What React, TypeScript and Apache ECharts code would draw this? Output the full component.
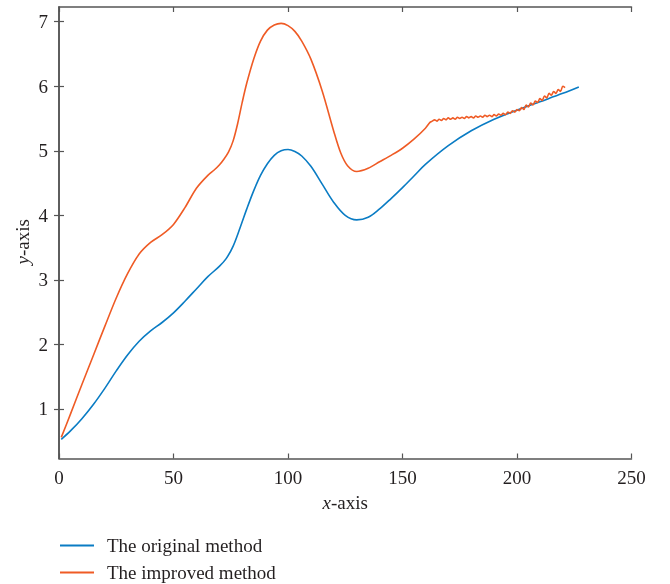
import React, { useEffect, useRef } from "react";
import * as echarts from "echarts";

const xTicks = [0, 50, 100, 150, 200, 250];
const yTicks = [1, 2, 3, 4, 5, 6, 7];

const origX = [1, 5, 10, 15, 20, 25, 30, 35, 40, 45, 50, 55, 60, 65, 70, 73, 76, 79, 82, 85, 88, 91, 94, 97, 100, 103, 106, 110, 115, 120, 125, 130, 135, 140, 145, 150, 155, 160, 170, 180, 190, 200, 210, 220, 227];
const origY = [0.53, 0.66, 0.85, 1.07, 1.32, 1.59, 1.84, 2.05, 2.21, 2.34, 2.49, 2.67, 2.86, 3.05, 3.21, 3.33, 3.52, 3.8, 4.1, 4.38, 4.62, 4.8, 4.93, 5.0, 5.02, 4.99, 4.92, 4.76, 4.48, 4.2, 4.0, 3.93, 3.97, 4.1, 4.26, 4.43, 4.61, 4.79, 5.08, 5.31, 5.49, 5.63, 5.76, 5.89, 5.99];

const impX = [1, 5, 10, 15, 20, 25, 30, 35, 40, 45, 50, 55, 60, 65, 68, 70, 72, 74, 76, 78, 80, 82, 85, 88, 91, 94, 97, 100, 103, 106, 110, 115, 120, 123, 126, 130, 135, 140, 145, 150, 155, 160, 162,
  163, 164, 165, 166, 167, 168, 169, 170, 171, 172, 173, 174, 175, 176, 177, 178, 179, 180, 181, 182, 183, 184, 185, 186, 187, 188, 189, 190, 191, 192, 193, 194, 195, 196, 197, 198, 199, 200, 201, 202, 203, 204, 205, 206, 207, 208, 209, 210, 211, 212, 213, 214, 215, 216, 217, 218, 219, 220, 221];
const impY = [0.56, 0.92, 1.38, 1.83, 2.28, 2.72, 3.1, 3.4, 3.58, 3.7, 3.86, 4.12, 4.42, 4.62, 4.71, 4.78, 4.87, 4.98, 5.15, 5.42, 5.75, 6.05, 6.42, 6.7, 6.87, 6.95, 6.975, 6.94, 6.85, 6.7, 6.42, 5.92, 5.3, 4.97, 4.77, 4.68, 4.73, 4.83, 4.93, 5.04, 5.18, 5.35, 5.44,
  5.46, 5.48, 5.46, 5.49, 5.47, 5.5, 5.48, 5.51, 5.49, 5.51, 5.49, 5.52, 5.5, 5.52, 5.5, 5.53, 5.51, 5.53, 5.51, 5.54, 5.52, 5.54, 5.52, 5.55, 5.53, 5.55, 5.53, 5.56, 5.54, 5.57, 5.55, 5.58, 5.56, 5.6, 5.58, 5.62, 5.6, 5.64, 5.62, 5.67, 5.64, 5.71, 5.68, 5.74, 5.71, 5.77, 5.75, 5.81, 5.78, 5.85, 5.82, 5.89, 5.86, 5.92, 5.89, 5.95, 5.92, 6.0, 5.98];

const seriesNames = ["The original method", "The improved method"];
const colors = ["#0a7cc4", "#ef5b25"];

const FONT = "Liberation Serif";
const AXIS_COLOR = "#555";
const TEXT_COLOR = "#231f20";

export default function App() {
  const ref = useRef<HTMLDivElement>(null);
  useEffect(() => {
    if (!ref.current) return;
    const chart = echarts.init(ref.current, undefined, { renderer: "svg" });
    const axisLine = { show: true, lineStyle: { color: AXIS_COLOR, width: 1.5 } };
    const tick = { show: true, inside: true, length: 5, lineStyle: { color: AXIS_COLOR, width: 1.2 } };
    chart.setOption({
      animation: false,
      textStyle: { fontFamily: FONT, color: TEXT_COLOR },
      grid: { left: 59, right: 38.5, top: 7, bottom: 125.5, containLabel: false },
      legend: {
        orient: "vertical",
        left: 60,
        top: 536,
        padding: 0,
        itemWidth: 34,
        itemHeight: 2,
        itemGap: 8,
        icon: "rect",
        align: "left",
        data: seriesNames,
        textStyle: { fontFamily: FONT, fontSize: 19, color: TEXT_COLOR, padding: [0, 0, 0, 8] },
      },
      xAxis: [
        {
          type: "value",
          min: 0,
          max: 250,
          interval: 50,
          position: "bottom",
          axisLine,
          axisTick: tick,
          splitLine: { show: false },
          axisLabel: { fontFamily: FONT, fontSize: 19, color: TEXT_COLOR, margin: 9, customValues: xTicks },
          name: "{i|x}-axis",
          nameLocation: "middle",
          nameGap: 34,
          nameTextStyle: {
            fontFamily: FONT,
            fontSize: 19,
            color: TEXT_COLOR,
            rich: { i: { fontStyle: "italic", fontFamily: FONT, fontSize: 19, color: TEXT_COLOR } },
          },
        },
        {
          type: "value",
          min: 0,
          max: 250,
          interval: 50,
          position: "top",
          axisLine,
          axisTick: tick,
          axisLabel: { show: false },
          splitLine: { show: false },
        },
      ],
      yAxis: [
        {
          type: "value",
          min: 0.233,
          max: 7.228,
          position: "left",
          axisLine,
          axisTick: { ...tick, customValues: yTicks },
          splitLine: { show: false },
          axisLabel: { fontFamily: FONT, fontSize: 19, color: TEXT_COLOR, margin: 11, customValues: yTicks },
          name: "{i|y}-axis",
          nameLocation: "middle",
          nameGap: 27,
          nameMoveOverlap: false,
          nameTextStyle: {
            fontFamily: FONT,
            fontSize: 19,
            color: TEXT_COLOR,
            padding: [0, 18, 0, 0],
            rich: { i: { fontStyle: "italic", fontFamily: FONT, fontSize: 19, color: TEXT_COLOR } },
          },
        },
        {
          type: "value",
          min: 0.233,
          max: 7.228,
          position: "right",
          axisLine,
          axisTick: { ...tick, customValues: yTicks },
          axisLabel: { show: false },
          splitLine: { show: false },
        },
      ],
      series: [
        {
          name: seriesNames[0],
          type: "line",
          data: origX.map((x, i) => [x, origY[i]]),
          symbol: "none",
          smooth: 0.35,
          lineStyle: { color: colors[0], width: 1.6 },
          itemStyle: { color: colors[0] },
        },
        {
          name: seriesNames[1],
          type: "line",
          data: impX.map((x, i) => [x, impY[i]]),
          symbol: "none",
          smooth: 0.3,
          lineStyle: { color: colors[1], width: 1.6 },
          itemStyle: { color: colors[1] },
        },
      ],
    });
    return () => chart.dispose();
  }, []);
  return <div ref={ref} style={{ position: "fixed", left: 0, top: 0, width: 670, height: 584 }} />;
}
